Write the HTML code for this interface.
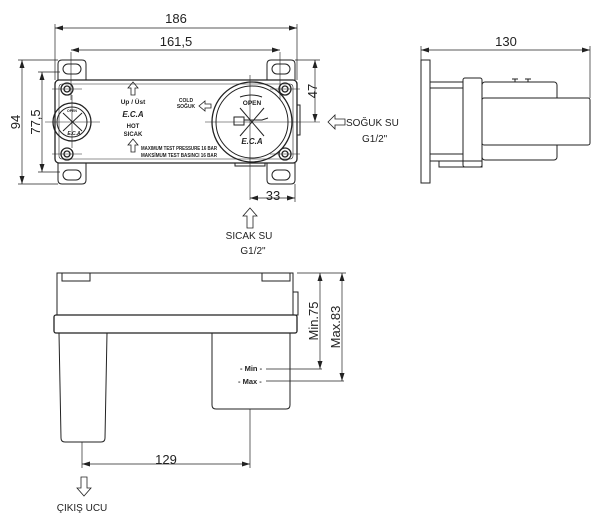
<!DOCTYPE html>
<html><head><meta charset="utf-8"><style>
html,body{margin:0;padding:0;background:#fff;}
svg{display:block;}
text{font-family:"Liberation Sans",sans-serif;fill:#222;}
.b{font-weight:bold;}
</style></head><body>
<svg width="600" height="525" viewBox="0 0 600 525" xmlns="http://www.w3.org/2000/svg">
<defs>
<marker id="a" markerWidth="8" markerHeight="6" refX="8" refY="3" orient="auto-start-reverse" markerUnits="userSpaceOnUse"><path d="M0,0.5 L8,3 L0,5.5 Z" fill="#222"/></marker>
</defs>
<g fill="none" stroke="#222" stroke-width="1">
<path d="M58,80 V64 Q58,60 62,60 H82 Q86,60 86,64 V80"/>
<path d="M267,80 V64 Q267,60 271,60 H291 Q295,60 295,64 V80"/>
<path d="M58,163 V180 Q58,184 62,184 H82 Q86,184 86,180 V163"/>
<path d="M267,163 V180 Q267,184 271,184 H291 Q295,184 295,180 V163"/>
<rect x="63" y="64" width="18" height="10" rx="5"/>
<rect x="272" y="64" width="18" height="10" rx="5"/>
<rect x="63" y="170" width="18" height="10" rx="5"/>
<rect x="272" y="170" width="18" height="10" rx="5"/>
<rect x="55" y="80" width="242" height="83" rx="4" stroke-width="1.3"/>
<rect x="59" y="84" width="234" height="75" rx="3" stroke-width="0.6"/>
<rect x="297" y="105" width="3" height="30"/>
<rect x="235" y="163" width="30" height="3"/>
<g stroke-width="1.3">
<circle cx="67" cy="89" r="6"/><circle cx="67" cy="89" r="3"/>
<circle cx="67" cy="154" r="6"/><circle cx="67" cy="154" r="3"/>
<circle cx="285" cy="89" r="6"/><circle cx="285" cy="89" r="3"/>
<circle cx="285" cy="154" r="6"/><circle cx="285" cy="154" r="3"/>
</g>
<circle cx="72" cy="122" r="19" stroke-width="1.3"/>
<circle cx="72" cy="122" r="15"/>
<line x1="63" y1="113" x2="82" y2="131"/><line x1="82" y1="113" x2="63" y2="131"/>
<circle cx="252" cy="122" r="40" stroke-width="1.3"/>
<circle cx="252" cy="122" r="36"/>
<line x1="240" y1="108" x2="264" y2="136"/><line x1="264" y1="108" x2="240" y2="136"/>
<rect x="234" y="117" width="10" height="8"/>
<path d="M244,120 H262 L268,118"/>
<path d="M240,97 Q252,93 262,97"/>
<g stroke-width="0.6">
<line x1="45" y1="122" x2="100" y2="122"/><line x1="72" y1="95" x2="72" y2="148"/>
<line x1="205" y1="122" x2="320" y2="122"/><line x1="250" y1="75" x2="250" y2="200"/>
<line x1="52" y1="89" x2="82" y2="89"/><line x1="52" y1="154" x2="82" y2="154"/>
<line x1="270" y1="89" x2="300" y2="89"/><line x1="270" y1="154" x2="300" y2="154"/>
<line x1="71" y1="52" x2="71" y2="100"/><line x1="280" y1="52" x2="280" y2="100"/>
</g>
<path d="M131,95 V88 H128 L133,82 L138,88 H135 V95 Z" stroke-width="0.8"/>
<path d="M131,152 V145 H128 L133,139 L138,145 H135 V152 Z" stroke-width="0.8"/>
<path d="M211,104 H205 V101 L199,106 L205,111 V108 H211 Z" stroke-width="0.8"/>
<g stroke-width="0.7">
<line x1="55" y1="24" x2="55" y2="80"/><line x1="297" y1="24" x2="297" y2="80"/>
<line x1="55" y1="28" x2="297" y2="28" marker-start="url(#a)" marker-end="url(#a)"/>
<line x1="71" y1="50" x2="280" y2="50" marker-start="url(#a)" marker-end="url(#a)"/>
<line x1="18" y1="60" x2="58" y2="60"/><line x1="18" y1="184" x2="58" y2="184"/>
<line x1="22" y1="60" x2="22" y2="184" marker-start="url(#a)" marker-end="url(#a)"/>
<line x1="38" y1="72" x2="60" y2="72"/><line x1="38" y1="172" x2="60" y2="172"/>
<line x1="42" y1="72" x2="42" y2="172" marker-start="url(#a)" marker-end="url(#a)"/>
<line x1="295" y1="60" x2="320" y2="60"/>
<line x1="315" y1="60" x2="315" y2="122" marker-start="url(#a)" marker-end="url(#a)"/>
<line x1="295" y1="184" x2="295" y2="202"/>
<line x1="250" y1="198" x2="295" y2="198" marker-start="url(#a)" marker-end="url(#a)"/>
</g>
<path d="M345,119 H335 V115 L328,122 L335,129 V125 H345 Z" stroke-width="0.8"/>
<path d="M247,228 V216 H243 L250,208 L257,216 H253 V228 Z" stroke-width="0.8"/>

<rect x="421" y="60" width="9" height="123"/>
<rect x="430" y="82" width="33" height="6"/>
<rect x="430" y="154" width="33" height="7"/>
<rect x="463" y="78" width="19" height="89" rx="2"/>
<rect x="482" y="82" width="75" height="78" rx="3"/>
<rect x="482" y="98" width="108" height="47" rx="2" fill="#fff"/>
<rect x="439" y="161" width="43" height="6"/>
<path d="M515,82 V79 M528,82 V79 M512,79 H518 M525,79 H531"/>
<g stroke-width="0.7">
<line x1="421" y1="46" x2="421" y2="60"/><line x1="590" y1="46" x2="590" y2="98"/>
<line x1="421" y1="50" x2="590" y2="50" marker-start="url(#a)" marker-end="url(#a)"/>
</g>

<rect x="57" y="273" width="236" height="42"/>
<path d="M62,273 V281 H90 V273 M262,273 V281 H290 V273"/>
<rect x="54" y="315" width="243" height="18" rx="2" stroke-width="1.3"/>
<rect x="293" y="292" width="5" height="23"/>
<path d="M59,333 L61,438 Q61,442 65,442 H101 Q105,442 105,438 L107,333"/>
<path d="M212,333 V405 Q212,409 216,409 H286 Q290,409 290,405 V333"/>
<g stroke-width="0.7">
<line x1="266" y1="369" x2="322" y2="369"/><line x1="266" y1="381" x2="344" y2="381"/>
<line x1="297" y1="273" x2="346" y2="273"/>
<line x1="320" y1="273" x2="320" y2="369" marker-start="url(#a)" marker-end="url(#a)"/>
<line x1="342" y1="273" x2="342" y2="381" marker-start="url(#a)" marker-end="url(#a)"/>
<line x1="82" y1="442" x2="82" y2="468"/><line x1="250" y1="409" x2="250" y2="468"/>
<line x1="82" y1="464" x2="250" y2="464" marker-start="url(#a)" marker-end="url(#a)"/>
</g>
<path d="M81,477 V488 H77 L84,496 L91,488 H87 V477 Z" stroke-width="0.8"/>
</g>

<g font-size="13">
<text x="176" y="23" text-anchor="middle">186</text>
<text x="176" y="46" text-anchor="middle">161,5</text>
<text x="20" y="122" text-anchor="middle" transform="rotate(-90 20 122)">94</text>
<text x="40" y="122" text-anchor="middle" transform="rotate(-90 40 122)">77,5</text>
<text x="317" y="91" text-anchor="middle" transform="rotate(-90 317 91)">47</text>
<text x="273" y="200" text-anchor="middle">33</text>
<text x="506" y="46" text-anchor="middle">130</text>
<text x="166" y="464" text-anchor="middle">129</text>
<text x="318" y="321" text-anchor="middle" transform="rotate(-90 318 321)">Min.75</text>
<text x="340" y="327" text-anchor="middle" transform="rotate(-90 340 327)">Max.83</text>
</g>
<g font-size="10">
<text x="346" y="126">SOĞUK SU</text>
<text x="362" y="142">G1/2"</text>
<text x="249" y="239" text-anchor="middle">SICAK SU</text>
<text x="253" y="254" text-anchor="middle">G1/2"</text>
<text x="82" y="511" text-anchor="middle">ÇIKIŞ UCU</text>
</g>
<g class="b" font-size="6">
<text x="133" y="104" text-anchor="middle" font-size="6.5">Up / Üst</text>
<text x="133" y="128" text-anchor="middle">HOT</text>
<text x="133" y="136" text-anchor="middle">SICAK</text>
<text x="186" y="102" text-anchor="middle" font-size="5">COLD</text>
<text x="186" y="108" text-anchor="middle" font-size="5">SOĞUK</text>
<text x="141" y="150" font-size="5" textLength="76" lengthAdjust="spacingAndGlyphs">MAXIMUM TEST PRESSURE 16 BAR</text>
<text x="141" y="157" font-size="5" textLength="76" lengthAdjust="spacingAndGlyphs">MAKSİMUM TEST BASINCI 16 BAR</text>
<text x="252" y="105" text-anchor="middle" font-size="6.5">OPEN</text>
<text x="72" y="112" text-anchor="middle" font-size="3.5">OPEN</text>
<text x="252" y="144" text-anchor="middle" font-size="8" font-style="italic">E.C.A</text>
<text x="133" y="117" text-anchor="middle" font-size="8" font-style="italic">E.C.A</text>
<text x="74" y="135" text-anchor="middle" font-size="5" font-style="italic">E.C.A</text>
<text x="240" y="371" font-size="7.5">- Min -</text>
<text x="238" y="384" font-size="7.5">- Max -</text>
</g>
</svg>
</body></html>
